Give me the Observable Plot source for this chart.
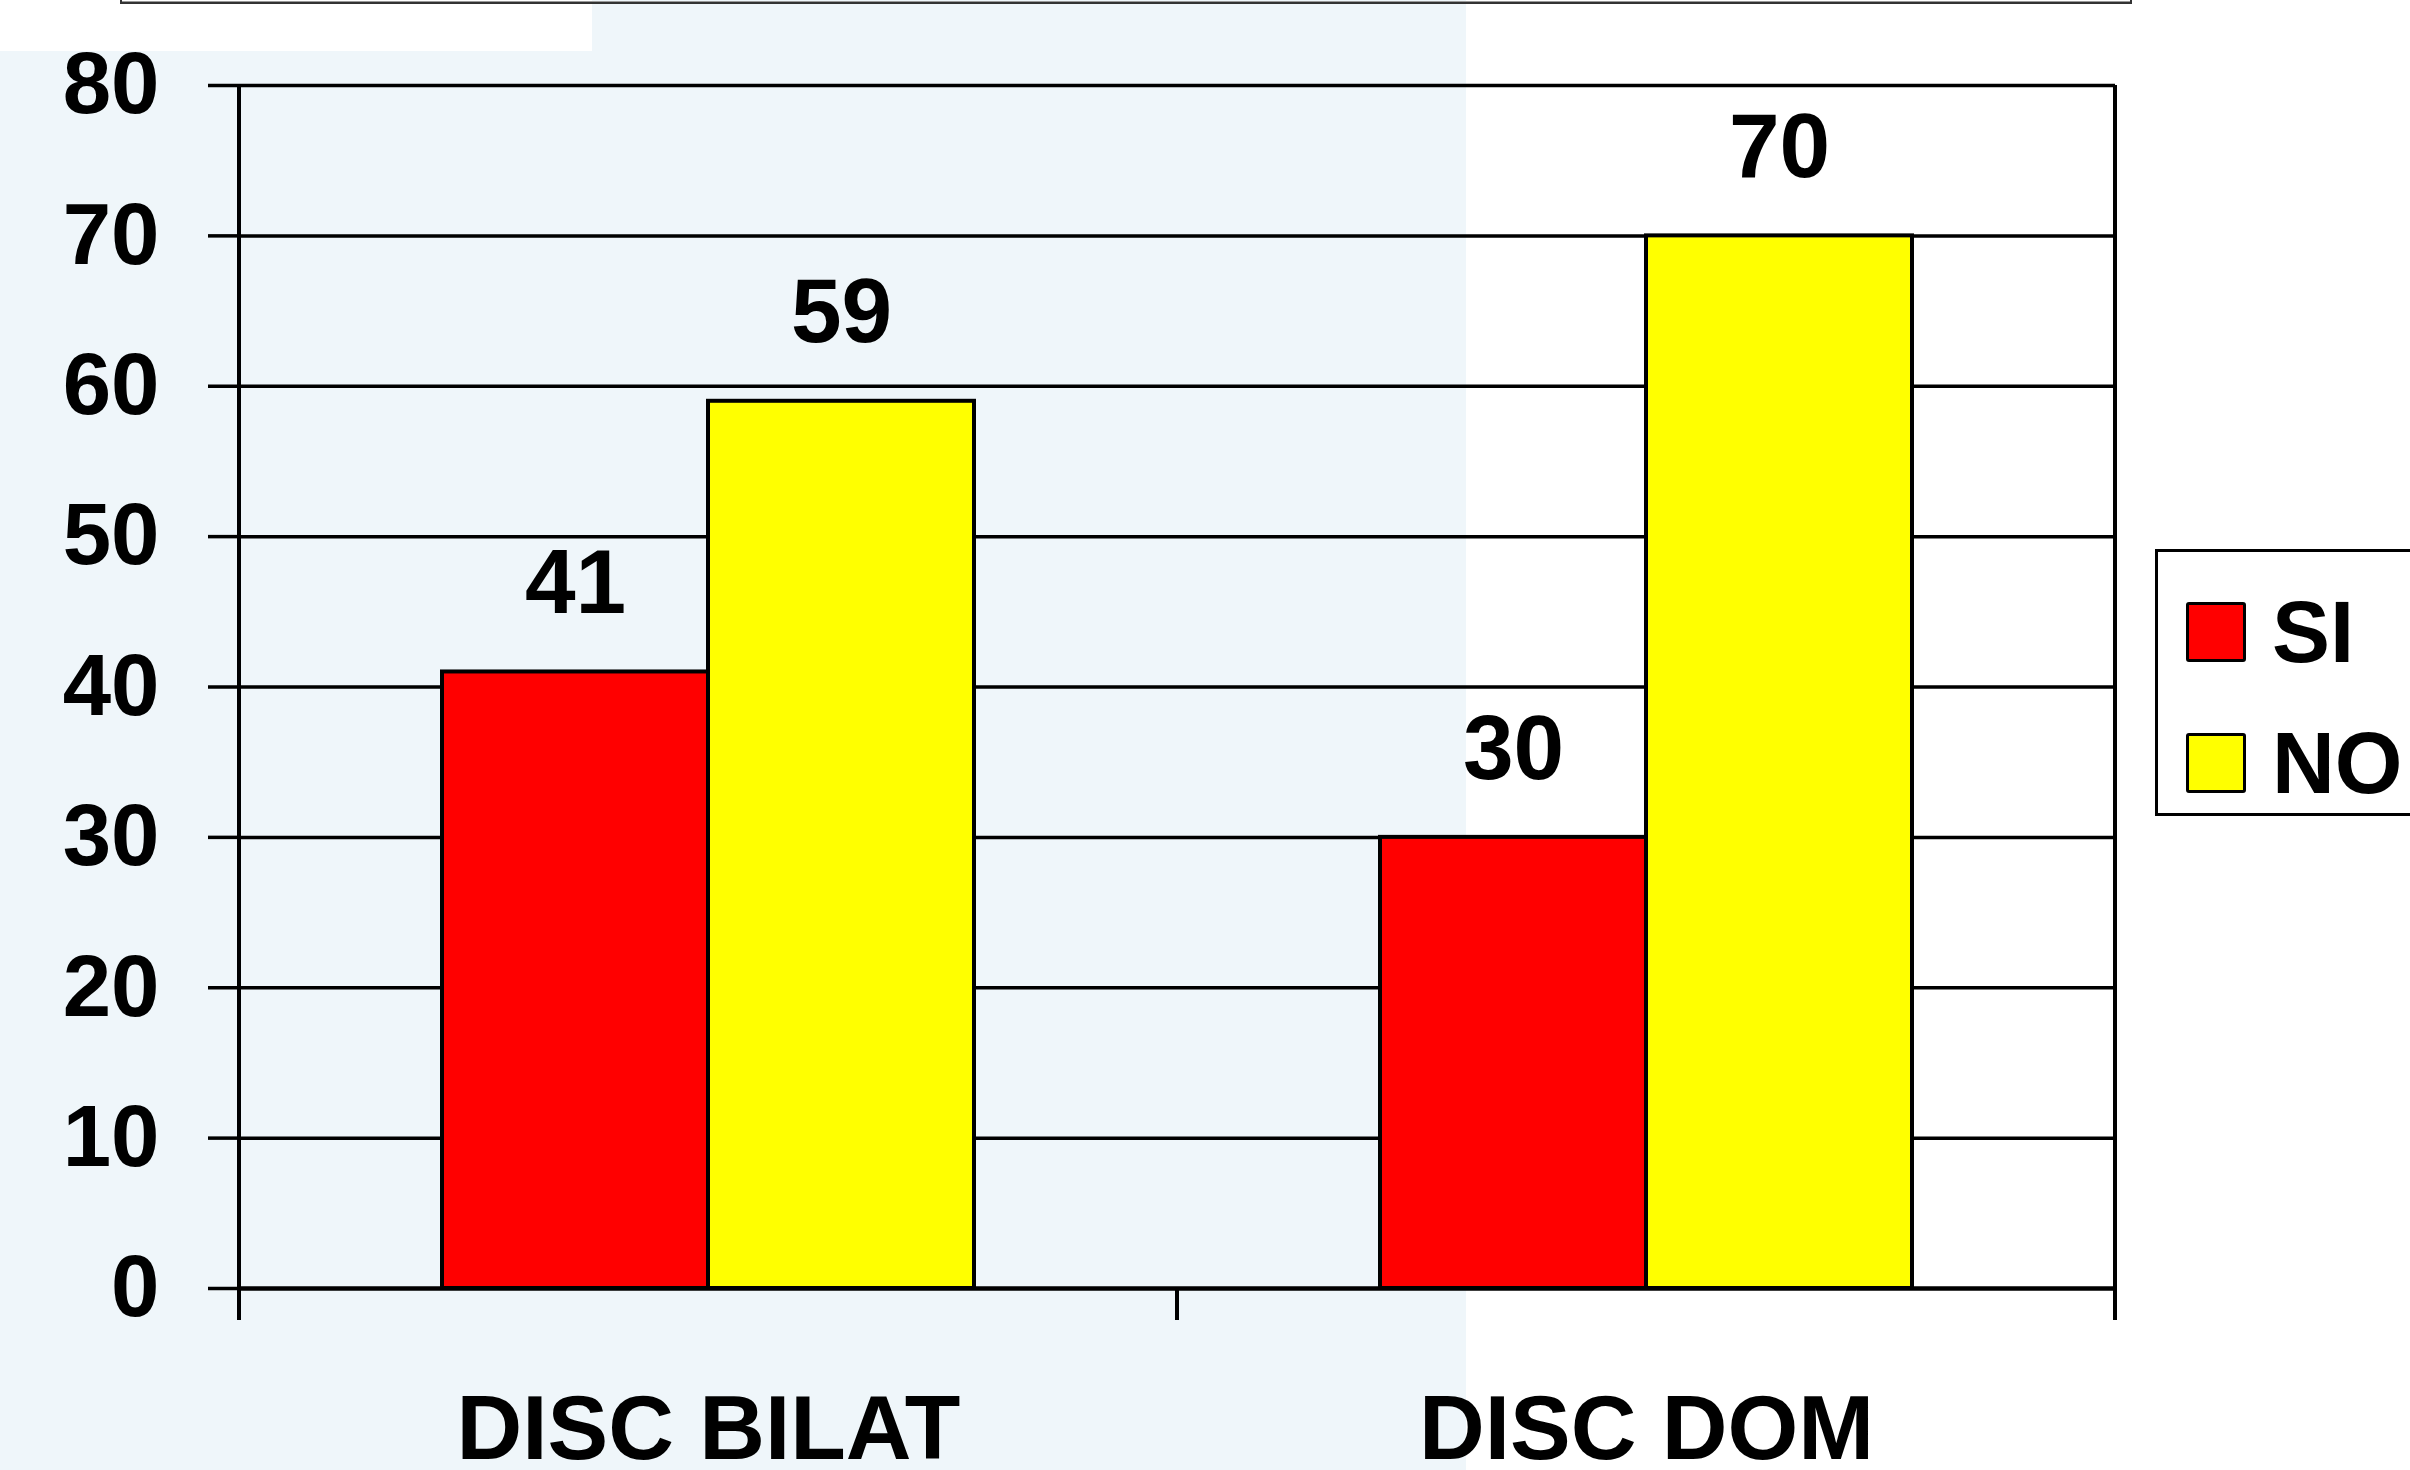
<!DOCTYPE html>
<html>
<head>
<meta charset="utf-8">
<script src="https://cdn.jsdelivr.net/npm/d3@7"></script>
<script src="https://cdn.jsdelivr.net/npm/@observablehq/plot@0.6"></script>
<style>
  html, body { margin: 0; padding: 0; background: #fff; overflow: hidden; }
  #page { position: relative; width: 2410px; height: 1470px; overflow: hidden; background: #fff; font-family: "Liberation Sans", Arial, sans-serif; }
  .bg1 { position: absolute; left: 0; top: 51px; width: 1466px; height: 1419px; background: #eff6fa; }
  .bg2 { position: absolute; left: 592px; top: 0; width: 874px; height: 51px; background: #eff6fa; }
  .topbox { position: absolute; left: 120px; top: -100px; width: 2008px; height: 100px; border: 2px solid #333; box-shadow: inset 0 -1px 0 #999; }
  #chart { position: absolute; left: 0; top: 0; }
  #legend { position: absolute; left: 2155px; top: 549px; width: 320px; height: 261px; border: 3px solid #000; background: #fff; }
  .item { position: absolute; left: 28px; display: flex; align-items: center; }
  .sw { width: 54px; height: 54px; border: 3px solid #000; border-radius: 3px; }
  .lab { margin-left: 26px; font-size: 87px; font-weight: bold; line-height: 1; color: #000; }
</style>
</head>
<body>
<div id="page">
  <div class="bg1"></div>
  <div class="bg2"></div>
  <div class="topbox"></div>
  <div id="chart"></div>
  <div id="legend"></div>
</div>
<script>
const categories = ["DISC BILAT", "DISC DOM"];
const series = ["SI", "NO"];
const siValues = [41, 30];
const noValues = [59, 70];
const yTicks = [0, 10, 20, 30, 40, 50, 60, 70, 80];
const seriesColors = ["#FF0000", "#FFFF00"];

const data = categories.flatMap((c, i) => [
  {category: c, series: "SI", value: siValues[i]},
  {category: c, series: "NO", value: noValues[i]}
]);

const plot = Plot.plot({
  width: 2410,
  height: 1470,
  marginLeft: 238,
  marginRight: 295,
  marginTop: 85,
  marginBottom: 182,
  style: {background: "transparent", fontFamily: "'Liberation Sans', Arial, sans-serif", fontWeight: "bold", color: "#000", overflow: "visible"},
  fx: {domain: categories, padding: 0, label: null},
  x: {domain: series, paddingInner: 0, paddingOuter: 0.763, axis: null},
  y: {domain: [0, 80], label: null},
  color: {domain: series, range: seriesColors},
  marks: [
    Plot.ruleY(yTicks.filter(d => d > 0), {stroke: "#000", strokeWidth: 3.5}),
    Plot.barY(data, {fx: "category", x: "series", y: "value", fill: "series", stroke: "#000", strokeWidth: 4}),
    Plot.ruleY([0], {stroke: "#000", strokeWidth: 4.5}),
    Plot.text(data, {fx: "category", x: "series", y: "value", text: d => String(d.value), dy: -88, fontSize: 91, fontWeight: "bold", fill: "#000"}),
    Plot.axisY({ticks: yTicks, tickSize: 31, tickPadding: 49, fontSize: 87, fontWeight: "bold", label: null, strokeWidth: 3.5, tickFormat: d => String(d)}),
    Plot.axisFx({anchor: "bottom", tickSize: 0, tickPadding: 106, fontSize: 91, fontWeight: "bold", label: null})
  ]
});
document.getElementById("chart").appendChild(plot);

// category boundary lines using the library's scales
const fx = plot.scale("fx");
const y = plot.scale("y");
const bounds = categories.map(c => fx.apply(c)).concat([fx.apply(categories[categories.length - 1]) + fx.bandwidth]);
const y0 = y.apply(0), yTop = y.apply(80);
const g = d3.select(plot).append("g").attr("stroke", "#000");
bounds.forEach((bx, i) => {
  const full = i === 0 || i === bounds.length - 1;
  g.append("line")
    .attr("x1", bx).attr("x2", bx)
    .attr("y1", full ? yTop : y0).attr("y2", y0 + 32)
    .attr("stroke-width", 4);
});

// legend
const legend = d3.select("#legend");
series.forEach((s, i) => {
  const item = legend.append("div").attr("class", "item").style("top", (i === 0 ? 36 : 167) + "px");
  item.append("div").attr("class", "sw").style("background", seriesColors[i]);
  item.append("div").attr("class", "lab").text(s);
});
</script>
</body>
</html>
